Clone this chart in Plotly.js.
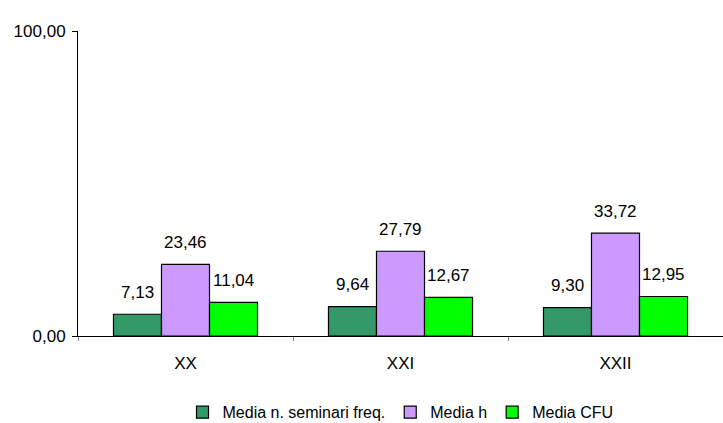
<!DOCTYPE html>
<html>
<head>
<meta charset="utf-8">
<script src="https://cdn.plot.ly/plotly-3.0.1.min.js"></script>
<style>html,body{margin:0;padding:0;background:#fff;}#chart{width:723px;height:423px;}</style>
</head>
<body>
<div id="chart"></div>
<script>
const categories = ["XX", "XXI", "XXII"];
const seriesNames = ["Media n. seminari freq.", "Media h", "Media CFU"];
const seminari = [7.13, 9.64, 9.30];
const oreH = [23.46, 27.79, 33.72];
const cfu = [11.04, 12.67, 12.95];
const yTicks = [0, 100];

const colors = ["#339966", "#CC99FF", "#00FF00"];
const allSeries = [seminari, oreH, cfu];

const W = 723, H = 423;
const margin = {l: 78, r: 0, t: 31, b: 87, autoexpand: false};
const plotW = W - margin.l - margin.r;
const bargap = 0.33;
const catW = plotW / categories.length;
const barW = catW * (1 - bargap) / allSeries.length;
const FONT = "Liberation Sans, Arial, sans-serif";
const FS = 17;

const traces = allSeries.map((vals, i) => ({
  type: "bar",
  name: seriesNames[i],
  x: categories,
  y: vals,
  marker: {color: colors[i], line: {color: "#000", width: 1.2}},
  hoverinfo: "none"
}));

const annotations = [];
allSeries.forEach((vals, i) => {
  vals.forEach((v, j) => {
    annotations.push({
      x: categories[j], y: v, xref: "x", yref: "y",
      text: v.toFixed(2).replace(".", ","),
      showarrow: false,
      xshift: (i - 1) * barW,
      yshift: 22,
      yanchor: "middle",
      font: {family: FONT, size: FS, color: "#000"}
    });
  });
});

const layout = {
  width: W, height: H,
  margin: margin,
  paper_bgcolor: "#fff", plot_bgcolor: "#fff",
  font: {family: FONT, size: FS, color: "#000"},
  separators: ",.",
  barmode: "group",
  bargap: bargap,
  bargroupgap: 0,
  showlegend: true,
  legend: {orientation: "h", x: 0.5, xanchor: "center", y: -0.25, yanchor: "middle",
           font: {size: 16}, itemwidth: 30, tracegroupgap: 0},
  xaxis: {
    type: "category",
    showline: true, linecolor: "#000", linewidth: 1,
    ticks: "outside", tickson: "boundaries", ticklen: 4, tickcolor: "#808080",
    ticklabelstandoff: 12,
    showgrid: false, zeroline: false, fixedrange: true,
    tickfont: {size: FS}
  },
  yaxis: {
    range: [0, 100],
    tickvals: yTicks,
    tickformat: ".2f",
    showline: true, linecolor: "#000", linewidth: 1,
    ticks: "outside", ticklen: 5, tickcolor: "#000",
    ticklabelstandoff: 3,
    showgrid: false, zeroline: false, fixedrange: true,
    tickfont: {size: FS}
  },
  annotations: annotations
};

Plotly.newPlot("chart", traces, layout, {displayModeBar: false, staticPlot: true});
</script>
</body>
</html>
